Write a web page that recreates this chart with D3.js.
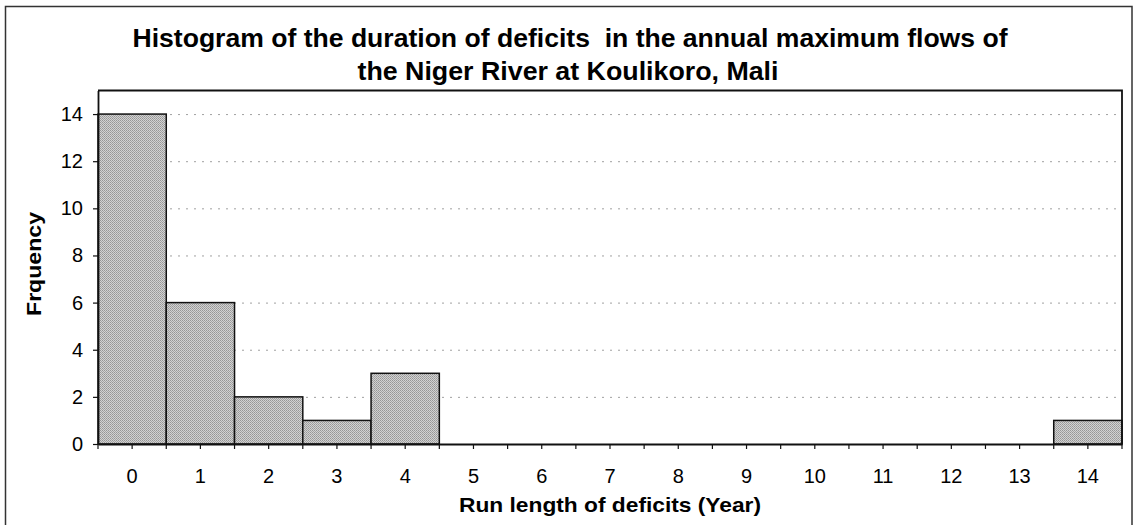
<!DOCTYPE html>
<html>
<head>
<meta charset="utf-8">
<script src="https://cdn.jsdelivr.net/npm/d3@7"></script>
<style>
  html, body { margin: 0; padding: 0; background: #fff; }
  svg { display: block; font-family: "Liberation Sans", Arial, sans-serif; }
</style>
</head>
<body>
<svg id="chart" width="1138" height="525"></svg>
<script>
// ---- data ----
const categories = ["0","1","2","3","4","5","6","7","8","9","10","11","12","13","14"];
const frequencies = [14, 6, 2, 1, 3, 0, 0, 0, 0, 0, 0, 0, 0, 0, 1];
const yTicks = [0, 2, 4, 6, 8, 10, 12, 14];
const titleLines = ["Histogram of the duration of deficits  in the annual maximum flows of",
                    "the Niger River at Koulikoro, Mali"];
const xTitle = "Run length of deficits (Year)";
const yTitle = "Frquency";

// ---- layout ----
const svg = d3.select("#chart");
const plot = { left: 98, right: 1122, top: 90.5, bottom: 444 };

// outer border
svg.append("rect")
  .attr("x", 5.5).attr("y", 6.5).attr("width", 1126.5).attr("height", 522)
  .attr("fill", "#fff").attr("stroke", "#333").attr("stroke-width", 1.5);

// halftone (checker) pattern for the bars
const defs = svg.append("defs");
const pat = defs.append("pattern")
  .attr("id", "halftone").attr("patternUnits", "userSpaceOnUse")
  .attr("width", 2).attr("height", 2);
pat.append("rect").attr("width", 2).attr("height", 2).attr("fill", "#d2d2d2");
pat.append("rect").attr("width", 1).attr("height", 1).attr("fill", "#969696");
pat.append("rect").attr("x", 1).attr("y", 1).attr("width", 1).attr("height", 1).attr("fill", "#a4a4a4");

const x = d3.scaleBand().domain(categories).range([plot.left, plot.right]).paddingInner(0).paddingOuter(0);
const y = d3.scaleLinear().domain([0, 15]).range([plot.bottom, plot.top]);

// gridlines
svg.append("g").selectAll("line")
  .data(yTicks.filter(d => d > 0))
  .join("line")
  .attr("x1", plot.left).attr("x2", plot.right)
  .attr("y1", d => y(d) + 0.5).attr("y2", d => y(d) + 0.5)
  .attr("stroke", "#a0a0a0").attr("stroke-width", 1)
  .attr("stroke-dasharray", "2,6");

// bars
svg.append("g").selectAll("rect")
  .data(categories.map((c, i) => ({ c, v: frequencies[i] })).filter(d => d.v > 0))
  .join("rect")
  .attr("x", d => x(d.c))
  .attr("y", d => y(d.v))
  .attr("width", x.bandwidth())
  .attr("height", d => y(0) - y(d.v))
  .attr("fill", "url(#halftone)")
  .attr("stroke", "#111").attr("stroke-width", 1.5);

// plot frame top & right
svg.append("path")
  .attr("d", `M${plot.left},${plot.top}H${plot.right}V${plot.bottom}`)
  .attr("fill", "none").attr("stroke", "#111").attr("stroke-width", 1.8);

// y axis
const yAxis = svg.append("g")
  .attr("transform", `translate(${plot.left},0)`)
  .call(d3.axisLeft(y).tickValues(yTicks).tickSize(5).tickSizeOuter(0).tickPadding(10));
yAxis.select(".domain").attr("stroke", "#111").attr("stroke-width", 1.8);
yAxis.selectAll(".tick line").attr("stroke", "#111").attr("stroke-width", 1.2);
yAxis.selectAll(".tick text")
  .attr("font-size", 20).attr("fill", "#000")
  .attr("font-family", "Liberation Sans, Arial, sans-serif");

// x axis (labels at category centres)
const xAxis = svg.append("g")
  .attr("transform", `translate(0,${plot.bottom})`)
  .call(d3.axisBottom(x).tickSize(5).tickSizeOuter(0).tickPadding(20));
xAxis.select(".domain").attr("stroke", "#111").attr("stroke-width", 1.8);
xAxis.selectAll(".tick line").attr("stroke", "#111").attr("stroke-width", 1.2);
xAxis.selectAll(".tick text")
  .attr("font-size", 20).attr("fill", "#000")
  .attr("font-family", "Liberation Sans, Arial, sans-serif");

// boundary tick marks between categories
const bounds = categories.map(c => x(c)).concat([x(categories[categories.length - 1]) + x.bandwidth()]);
svg.append("g").selectAll("line")
  .data(bounds)
  .join("line")
  .attr("x1", d => d).attr("x2", d => d)
  .attr("y1", plot.bottom).attr("y2", plot.bottom + 5)
  .attr("stroke", "#111").attr("stroke-width", 1.2);

// title
svg.append("text")
  .attr("x", 570).attr("y", 47).attr("text-anchor", "middle")
  .attr("font-size", 25).attr("font-weight", "bold")
  .attr("textLength", 875).attr("lengthAdjust", "spacingAndGlyphs")
  .style("white-space", "pre")
  .text(titleLines[0]);
svg.append("text")
  .attr("x", 568).attr("y", 80).attr("text-anchor", "middle")
  .attr("font-size", 25).attr("font-weight", "bold")
  .attr("textLength", 421).attr("lengthAdjust", "spacingAndGlyphs")
  .text(titleLines[1]);

// axis titles
svg.append("text")
  .attr("x", 610).attr("y", 512).attr("text-anchor", "middle")
  .attr("font-size", 21).attr("font-weight", "bold")
  .attr("textLength", 302).attr("lengthAdjust", "spacingAndGlyphs")
  .text(xTitle);
svg.append("text")
  .attr("transform", "translate(41,264) rotate(-90)")
  .attr("text-anchor", "middle")
  .attr("font-size", 21).attr("font-weight", "bold")
  .attr("textLength", 104).attr("lengthAdjust", "spacingAndGlyphs")
  .text(yTitle);
</script>
</body>
</html>
